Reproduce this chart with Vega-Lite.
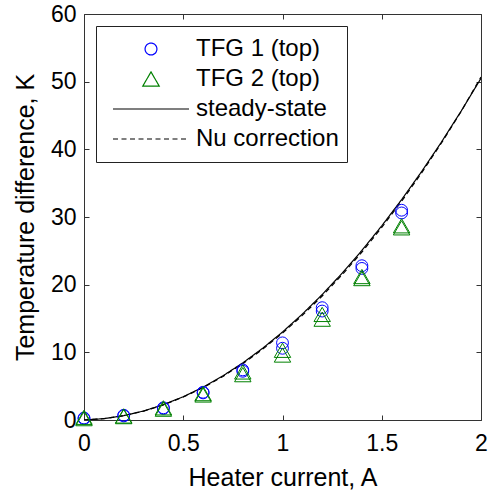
{
  "$schema": "https://vega.github.io/schema/vega-lite/v6.json",
  "width": 397,
  "height": 406,
  "autosize": "none",
  "padding": {"left": 84, "top": 14, "right": 8, "bottom": 70},
  "background": "white",
  "config": {
    "view": {"stroke": null},
    "font": "Liberation Sans",
    "axis": {
      "grid": false,
      "domainColor": "#333333",
      "domainWidth": 1,
      "tickColor": "#333333",
      "tickWidth": 1,
      "tickSize": -5,
      "labelFont": "Liberation Sans",
      "labelFontSize": 23,
      "labelColor": "#000000",
      "titleFont": "Liberation Sans",
      "titleFontSize": 25,
      "titleFontWeight": "normal",
      "titleColor": "#000000"
    },
    "legend": {
      "title": null,
      "orient": "top-left",
      "offset": 12,
      "padding": 8,
      "clipHeight": 30,
      "rowPadding": 0,
      "symbolOffset": 8,
      "labelOffset": 6,
      "labelFont": "Liberation Sans",
      "labelFontSize": 24,
      "labelColor": "#000000",
      "labelLimit": 400,
      "strokeColor": "#222222",
      "fillColor": "#ffffff",
      "symbolStrokeWidth": 1.2
    }
  },
  "datasets": {
    "measured": [
      {"current": 0.0, "dT": 0.3, "series": "TFG 1 (top)"},
      {"current": 0.0, "dT": 0.2, "series": "TFG 1 (top)"},
      {"current": 0.2, "dT": 0.7, "series": "TFG 1 (top)"},
      {"current": 0.2, "dT": 0.6, "series": "TFG 1 (top)"},
      {"current": 0.4, "dT": 1.8, "series": "TFG 1 (top)"},
      {"current": 0.4, "dT": 1.7, "series": "TFG 1 (top)"},
      {"current": 0.6, "dT": 4.1, "series": "TFG 1 (top)"},
      {"current": 0.6, "dT": 4.0, "series": "TFG 1 (top)"},
      {"current": 0.8, "dT": 7.4, "series": "TFG 1 (top)"},
      {"current": 0.8, "dT": 7.2, "series": "TFG 1 (top)"},
      {"current": 1.0, "dT": 11.4, "series": "TFG 1 (top)"},
      {"current": 1.0, "dT": 10.6, "series": "TFG 1 (top)"},
      {"current": 1.2, "dT": 16.6, "series": "TFG 1 (top)"},
      {"current": 1.2, "dT": 16.1, "series": "TFG 1 (top)"},
      {"current": 1.4, "dT": 22.8, "series": "TFG 1 (top)"},
      {"current": 1.4, "dT": 22.4, "series": "TFG 1 (top)"},
      {"current": 1.6, "dT": 31.0, "series": "TFG 1 (top)"},
      {"current": 1.6, "dT": 30.6, "series": "TFG 1 (top)"},
      {"current": 0.0, "dT": 0.4, "series": "TFG 2 (top)"},
      {"current": 0.0, "dT": 0.2, "series": "TFG 2 (top)"},
      {"current": 0.2, "dT": 0.6, "series": "TFG 2 (top)"},
      {"current": 0.2, "dT": 0.5, "series": "TFG 2 (top)"},
      {"current": 0.4, "dT": 1.8, "series": "TFG 2 (top)"},
      {"current": 0.4, "dT": 1.6, "series": "TFG 2 (top)"},
      {"current": 0.6, "dT": 3.9, "series": "TFG 2 (top)"},
      {"current": 0.6, "dT": 3.7, "series": "TFG 2 (top)"},
      {"current": 0.8, "dT": 7.1, "series": "TFG 2 (top)"},
      {"current": 0.8, "dT": 6.7, "series": "TFG 2 (top)"},
      {"current": 1.0, "dT": 10.3, "series": "TFG 2 (top)"},
      {"current": 1.0, "dT": 9.6, "series": "TFG 2 (top)"},
      {"current": 1.2, "dT": 15.6, "series": "TFG 2 (top)"},
      {"current": 1.2, "dT": 14.9, "series": "TFG 2 (top)"},
      {"current": 1.4, "dT": 21.2, "series": "TFG 2 (top)"},
      {"current": 1.4, "dT": 20.9, "series": "TFG 2 (top)"},
      {"current": 1.6, "dT": 28.7, "series": "TFG 2 (top)"},
      {"current": 1.6, "dT": 28.4, "series": "TFG 2 (top)"}
    ],
    "model": [
      {"current": 0.0, "dT": 0.0, "series": "steady-state"},
      {"current": 0.1, "dT": 0.2, "series": "steady-state"},
      {"current": 0.2, "dT": 0.64, "series": "steady-state"},
      {"current": 0.3, "dT": 1.33, "series": "steady-state"},
      {"current": 0.4, "dT": 2.26, "series": "steady-state"},
      {"current": 0.5, "dT": 3.44, "series": "steady-state"},
      {"current": 0.6, "dT": 4.86, "series": "steady-state"},
      {"current": 0.7, "dT": 6.53, "series": "steady-state"},
      {"current": 0.8, "dT": 8.44, "series": "steady-state"},
      {"current": 0.9, "dT": 10.6, "series": "steady-state"},
      {"current": 1.0, "dT": 13.0, "series": "steady-state"},
      {"current": 1.1, "dT": 15.65, "series": "steady-state"},
      {"current": 1.2, "dT": 18.54, "series": "steady-state"},
      {"current": 1.3, "dT": 21.68, "series": "steady-state"},
      {"current": 1.4, "dT": 25.06, "series": "steady-state"},
      {"current": 1.5, "dT": 28.69, "series": "steady-state"},
      {"current": 1.6, "dT": 32.56, "series": "steady-state"},
      {"current": 1.7, "dT": 36.68, "series": "steady-state"},
      {"current": 1.8, "dT": 41.04, "series": "steady-state"},
      {"current": 1.9, "dT": 45.65, "series": "steady-state"},
      {"current": 2.0, "dT": 50.5, "series": "steady-state"},
      {"current": 0.0, "dT": 0.0, "series": "Nu correction"},
      {"current": 0.1, "dT": 0.2, "series": "Nu correction"},
      {"current": 0.2, "dT": 0.63, "series": "Nu correction"},
      {"current": 0.3, "dT": 1.31, "series": "Nu correction"},
      {"current": 0.4, "dT": 2.23, "series": "Nu correction"},
      {"current": 0.5, "dT": 3.39, "series": "Nu correction"},
      {"current": 0.6, "dT": 4.79, "series": "Nu correction"},
      {"current": 0.7, "dT": 6.44, "series": "Nu correction"},
      {"current": 0.8, "dT": 8.33, "series": "Nu correction"},
      {"current": 0.9, "dT": 10.46, "series": "Nu correction"},
      {"current": 1.0, "dT": 12.84, "series": "Nu correction"},
      {"current": 1.1, "dT": 15.46, "series": "Nu correction"},
      {"current": 1.2, "dT": 18.33, "series": "Nu correction"},
      {"current": 1.3, "dT": 21.45, "series": "Nu correction"},
      {"current": 1.4, "dT": 24.82, "series": "Nu correction"},
      {"current": 1.5, "dT": 28.45, "series": "Nu correction"},
      {"current": 1.6, "dT": 32.33, "series": "Nu correction"},
      {"current": 1.7, "dT": 36.48, "series": "Nu correction"},
      {"current": 1.8, "dT": 40.9, "series": "Nu correction"},
      {"current": 1.9, "dT": 45.6, "series": "Nu correction"},
      {"current": 2.0, "dT": 50.7, "series": "Nu correction"}
    ]
  },
  "layer": [
    {
      "data": {"name": "model"},
      "mark": {"type": "line", "strokeWidth": 1.2, "clip": true},
      "encoding": {
        "x": {
          "field": "current", "type": "quantitative",
          "scale": {"domain": [0, 2], "nice": false},
          "axis": {"orient": "bottom", "title": "Heater current, A", "values": [0, 0.5, 1, 1.5, 2], "format": "~g", "labelPadding": 17, "titlePadding": 10, "labelFlush": false}
        },
        "y": {
          "field": "dT", "type": "quantitative",
          "scale": {"domain": [0, 60], "nice": false},
          "axis": {"orient": "left", "title": "Temperature difference, K", "values": [0, 10, 20, 30, 40, 50, 60], "format": "d", "labelPadding": 13, "titlePadding": 12, "labelFlush": false}
        },
        "color": {
          "field": "series", "type": "nominal",
          "scale": {"domain": ["TFG 1 (top)", "TFG 2 (top)", "steady-state", "Nu correction"], "range": ["#0000ff", "#008000", "#000000", "#000000"]}
        },
        "strokeDash": {
          "field": "series", "type": "nominal",
          "scale": {"domain": ["TFG 1 (top)", "TFG 2 (top)", "steady-state", "Nu correction"], "range": [[1, 0], [1, 0], [1, 0], [5, 3.5]]}
        },
        "order": {"field": "current", "type": "quantitative"}
      }
    },
    {
      "data": {"name": "measured"},
      "mark": {"type": "point", "filled": false, "strokeWidth": 1, "opacity": 1},
      "encoding": {
        "x": {
          "field": "current", "type": "quantitative",
          "axis": {"orient": "top", "title": null, "labels": false, "values": [0, 0.5, 1, 1.5, 2]}
        },
        "y": {
          "field": "dT", "type": "quantitative",
          "axis": {"orient": "right", "title": null, "labels": false, "values": [0, 10, 20, 30, 40, 50, 60]}
        },
        "color": {"field": "series", "type": "nominal"},
        "shape": {
          "field": "series", "type": "nominal",
          "scale": {"domain": ["TFG 1 (top)", "TFG 2 (top)", "steady-state", "Nu correction"], "range": ["circle", "triangle-up", "stroke", "stroke"]}
        },
        "size": {
          "field": "series", "type": "nominal",
          "scale": {"type": "ordinal", "domain": ["TFG 1 (top)", "TFG 2 (top)", "steady-state", "Nu correction"], "range": [140, 270, 5776, 5776]}
        }
      }
    }
  ],
  "resolve": {"axis": {"x": "independent", "y": "independent"}}
}
